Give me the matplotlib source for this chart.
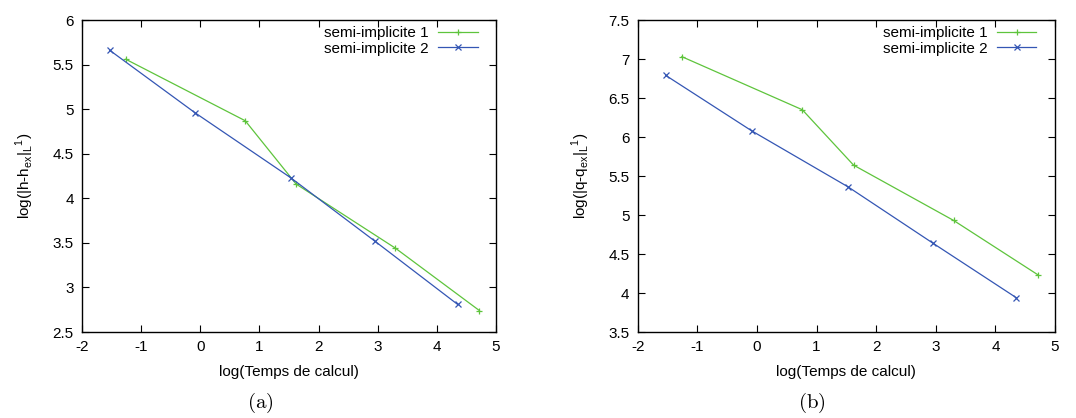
import matplotlib.pyplot as plt

plt.rcParams['font.family'] = ['Liberation Sans', 'DejaVu Sans']
plt.rcParams['mathtext.fontset'] = 'custom'
plt.rcParams['mathtext.rm'] = 'Liberation Sans'
plt.rcParams['axes.unicode_minus'] = False

# donnees
x_si1 = [-1.26, 0.76, 1.62, 3.30, 4.72]
x_si2 = [-1.53, -0.09, 1.53, 2.95, 4.35]

h_si1 = [5.56, 4.87, 4.16, 3.44, 2.74]
h_si2 = [5.66, 4.96, 4.23, 3.52, 2.81]

q_si1 = [7.03, 6.35, 5.64, 4.93, 4.23]
q_si2 = [6.79, 6.08, 5.36, 4.64, 3.94]

label1 = 'semi-implicite 1'
label2 = 'semi-implicite 2'
xlabel = 'log(Temps de calcul)'
ylabels = [r'log(|h-h$_\mathregular{ex}$|$_\mathregular{L}$$^\mathregular{1}$)',
           r'log(|q-q$_\mathregular{ex}$|$_\mathregular{L}$$^\mathregular{1}$)']

green = '#5ec43c'
blue = '#3456b4'

fig = plt.figure(figsize=(10.76, 4.18), dpi=100)
ax1 = fig.add_axes([0.0762, 0.2057, 0.3848, 0.7464])
ax2 = fig.add_axes([0.5927, 0.2057, 0.3878, 0.7464])

panels = [(ax1, h_si1, h_si2, (2.5, 6)), (ax2, q_si1, q_si2, (3.5, 7.5))]
for i, (ax, y1, y2, ylim) in enumerate(panels):
    ax.plot(x_si1, y1, color=green, lw=0.9, marker='+', ms=5, mew=0.9, label=label1)
    ax.plot(x_si2, y2, color=blue, lw=0.9, marker='x', ms=4, mew=0.9, label=label2)
    ax.set_xlim(-2, 5)
    ax.set_ylim(*ylim)
    yt = [v / 2 for v in range(int(ylim[0] * 2), int(ylim[1] * 2) + 1)]
    ax.set_yticks(yt)
    ax.set_yticklabels(['%g' % v for v in yt])
    ax.tick_params(direction='in', top=True, right=True, labelsize=11, length=5, pad=6)
    ax.set_xlabel(xlabel, fontsize=11, labelpad=8)
    ax.set_ylabel(ylabels[i], fontsize=11, labelpad=12)
    for s in ax.spines.values():
        s.set_linewidth(1.0)
    ax.legend(loc='upper right', bbox_to_anchor=(0.97, 1.0), frameon=False,
              markerfirst=False, fontsize=11, handlelength=2.6, borderaxespad=0,
              labelspacing=0.1, handletextpad=0.6)

fig.text(0.2418, 0.036, r'$\mathrm{(a)}$', ha='center', va='center', fontsize=15,
         math_fontfamily='cm')
fig.text(0.7544, 0.036, r'$\mathrm{(b)}$', ha='center', va='center', fontsize=15,
         math_fontfamily='cm')

plt.savefig('out.png', dpi=100)
